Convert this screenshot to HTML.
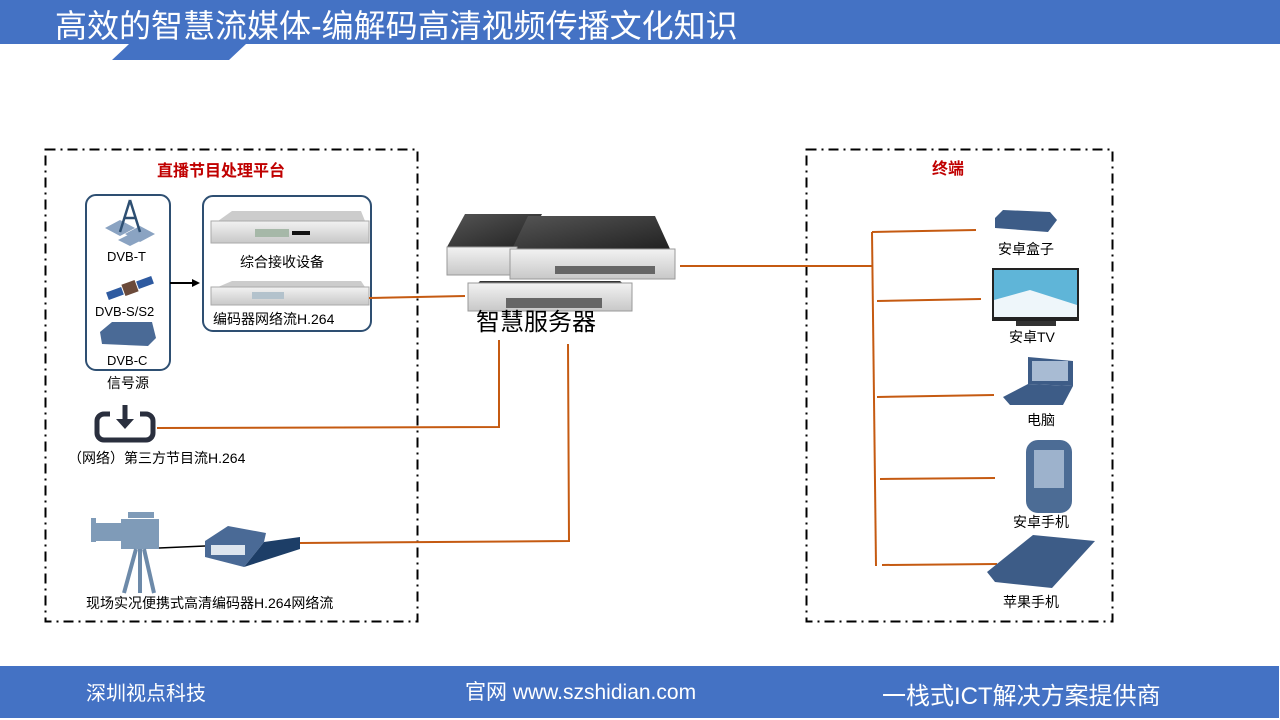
<!DOCTYPE html>
<html><head><meta charset="utf-8"><style>
body{margin:0;width:1280px;height:720px;overflow:hidden;background:#fff;font-family:"Liberation Sans","Noto Sans CJK SC",sans-serif}
svg{position:absolute;left:0;top:0}
text{font-family:"Liberation Sans","Noto Sans CJK SC",sans-serif}
</style></head><body>
<svg width="1280" height="720" viewBox="0 0 1280 720">
<defs>
<linearGradient id="rack" x1="0" y1="0" x2="0" y2="1"><stop offset="0" stop-color="#f2f2f2"/><stop offset="1" stop-color="#c8c8c8"/></linearGradient>
<linearGradient id="top" x1="0" y1="0" x2="1" y2="1"><stop offset="0" stop-color="#555"/><stop offset="1" stop-color="#222"/></linearGradient>
</defs>
<!-- header -->
<rect x="0" y="0" width="1280" height="44" fill="#4472c4"/>
<polygon points="129,44 246,44 229,60 112,60" fill="#4472c4"/>
<text x="55" y="37" font-size="32" fill="#fff">高效的智慧流媒体-编解码高清视频传播文化知识</text>
<!-- footer -->
<rect x="0" y="666" width="1279" height="52" fill="#4472c4"/>
<text x="86" y="700" font-size="20" fill="#fff">深圳视点科技</text>
<text x="465" y="699" font-size="21" fill="#fff">官网 www.szshidian.com</text>
<text x="882" y="704" font-size="24" fill="#fff">一栈式ICT解决方案提供商</text>
<!-- dashed boxes -->
<rect x="45.5" y="149.5" width="372" height="472" fill="none" stroke="#000" stroke-width="2" stroke-dasharray="10,5,2,5"/>
<rect x="806.5" y="149.5" width="306" height="472" fill="none" stroke="#000" stroke-width="2" stroke-dasharray="10,5,2,5"/>
<text x="157" y="176" font-size="16" font-weight="bold" fill="#c00000">直播节目处理平台</text>
<text x="932" y="174" font-size="16" font-weight="bold" fill="#c00000">终端</text>
<!-- signal source box -->
<rect x="86" y="195" width="84" height="175" rx="10" fill="none" stroke="#2e4f72" stroke-width="2"/>
<rect x="203" y="196" width="168" height="135" rx="10" fill="none" stroke="#2e4f72" stroke-width="2"/>
<!-- tower -->
<polygon points="105,228 120,220 135,228 120,236" fill="#8aa3c2"/><polygon points="125,234 140,226 155,234 140,242" fill="#8aa3c2"/><polygon points="118,240 130,234 142,240 130,246" fill="#8aa3c2"/>
<path d="M130,200 L120,232 M130,200 L140,232 M124,218 L136,218" stroke="#2e4f72" stroke-width="2.5" fill="none"/>
<text x="107" y="261" font-size="13" fill="#000">DVB-T</text>
<!-- satellite -->
<g transform="rotate(-20 130 288)"><rect x="106" y="284" width="16" height="8" fill="#2e5aa0"/><rect x="138" y="284" width="16" height="8" fill="#2e5aa0"/><rect x="123" y="282" width="14" height="12" fill="#6b4a3a"/></g>
<text x="95" y="316" font-size="13" fill="#000">DVB-S/S2</text>
<polygon points="100,332 112,322 152,322 156,338 148,346 102,344" fill="#4a6a96"/>
<text x="107" y="365" font-size="13" fill="#000">DVB-C</text>
<text x="107" y="388" font-size="14" fill="#000">信号源</text>
<!-- arrow -->
<line x1="170" y1="283" x2="194" y2="283" stroke="#000" stroke-width="2"/><polygon points="192,279 200,283 192,287" fill="#000"/>
<!-- racks -->
<polygon points="218,221 232,211 361,211 365,221" fill="#ccc"/>
<rect x="211" y="221" width="158" height="22" fill="url(#rack)" stroke="#aaa"/>
<rect x="255" y="229" width="34" height="8" fill="#a6b8a8"/><rect x="292" y="231" width="18" height="4" fill="#111"/>
<text x="240" y="267" font-size="14" fill="#000">综合接收设备</text>
<polygon points="218,287 232,281 361,281 365,287" fill="#ccc"/>
<rect x="211" y="287" width="158" height="18" fill="url(#rack)" stroke="#aaa"/>
<rect x="252" y="292" width="32" height="7" fill="#b3c2cc"/>
<text x="213" y="324" font-size="14" fill="#000">编码器网络流H.264</text>
<!-- server -->
<polygon points="465,214 542,214 525,247 447,247" fill="url(#top)"/>
<polygon points="528,216 655,216 670,249 512,249" fill="url(#top)"/>
<rect x="447" y="247" width="70" height="28" fill="url(#rack)" stroke="#999"/>
<rect x="510" y="249" width="165" height="30" fill="url(#rack)" stroke="#999"/>
<rect x="555" y="266" width="100" height="8" fill="#666"/>
<polygon points="480,281 620,281 632,291 470,291" fill="#333"/>
<rect x="468" y="283" width="164" height="28" fill="url(#rack)" stroke="#999"/>
<rect x="506" y="298" width="96" height="10" fill="#666"/>
<text x="476" y="330" font-size="24" fill="#000">智慧服务器</text>
<!-- orange lines -->
<g stroke="#c55a11" stroke-width="2" fill="none">
<path d="M369,298 L465,296"/>
<path d="M157,428 L499,427 L499,340"/>
<path d="M300,543 L569,541 L568,344"/>
<path d="M680,266 L872,266"/>
<path d="M872,232 L876,566"/>
<path d="M872,232 L976,230"/>
<path d="M877,301 L981,299"/>
<path d="M877,397 L994,395"/>
<path d="M880,479 L995,478"/>
<path d="M882,565 L997,564"/>
</g>
<!-- download icon -->
<rect x="97" y="414" width="56" height="26" rx="7" fill="none" stroke="#2a2f3e" stroke-width="5"/>
<rect x="110" y="408" width="30" height="10" fill="#fff"/>
<path d="M125,405 L125,424" stroke="#2a2f3e" stroke-width="5"/><polygon points="116,419 134,419 125,429" fill="#2a2f3e"/>
<text x="68" y="463" font-size="14" fill="#000">（网络）第三方节目流H.264</text>
<!-- camera -->
<rect x="121" y="519" width="38" height="30" fill="#7f9bb8"/><rect x="95" y="523" width="26" height="18" fill="#7f9bb8"/><rect x="91" y="518" width="5" height="24" fill="#7f9bb8"/>
<rect x="128" y="512" width="26" height="6" fill="#7f9bb8"/>
<path d="M136,549 L124,593 M140,549 L140,593 M144,549 L154,593" stroke="#6d8aa9" stroke-width="4"/>
<line x1="159" y1="548" x2="205" y2="546" stroke="#000" stroke-width="1.5"/>
<polygon points="205,541 228,526 266,533 264,542 244,567 205,557" fill="#4a6a96"/>
<rect x="211" y="545" width="34" height="10" fill="#dde5ee"/>
<polygon points="264,542 300,537 300,549 244,567" fill="#1d3e67"/>
<text x="86" y="608" font-size="14" fill="#000">现场实况便携式高清编码器H.264网络流</text>
<!-- terminals -->
<polygon points="995,218 1003,210 1050,212 1057,220 1048,232 995,228" fill="#3d5c87"/>
<text x="998" y="254" font-size="14" fill="#000">安卓盒子</text>
<rect x="992" y="268" width="87" height="53" fill="#222"/><rect x="994" y="270" width="83" height="47" fill="#5fb5d8"/><polygon points="994,300 1030,290 1077,305 1077,317 994,317" fill="#eef6fa"/>
<rect x="1016" y="321" width="40" height="5" fill="#333"/>
<text x="1009" y="342" font-size="14" fill="#000">安卓TV</text>
<polygon points="1028,357 1073,361 1073,386 1028,384" fill="#3d5c87"/><rect x="1032" y="361" width="36" height="20" fill="#a8bbd3"/>
<polygon points="1003,397 1028,384 1073,386 1063,405 1010,405" fill="#3d5c87"/>
<text x="1027" y="425" font-size="14" fill="#000">电脑</text>
<rect x="1026" y="440" width="46" height="73" rx="12" fill="#4c6c95"/><rect x="1034" y="450" width="30" height="38" fill="#9db2cc"/>
<text x="1013" y="527" font-size="14" fill="#000">安卓手机</text>
<polygon points="987,572 1033,535 1095,541 1052,588 995,582" fill="#3d5c87"/>
<text x="1003" y="607" font-size="14" fill="#000">苹果手机</text>
</svg>
</body></html>
